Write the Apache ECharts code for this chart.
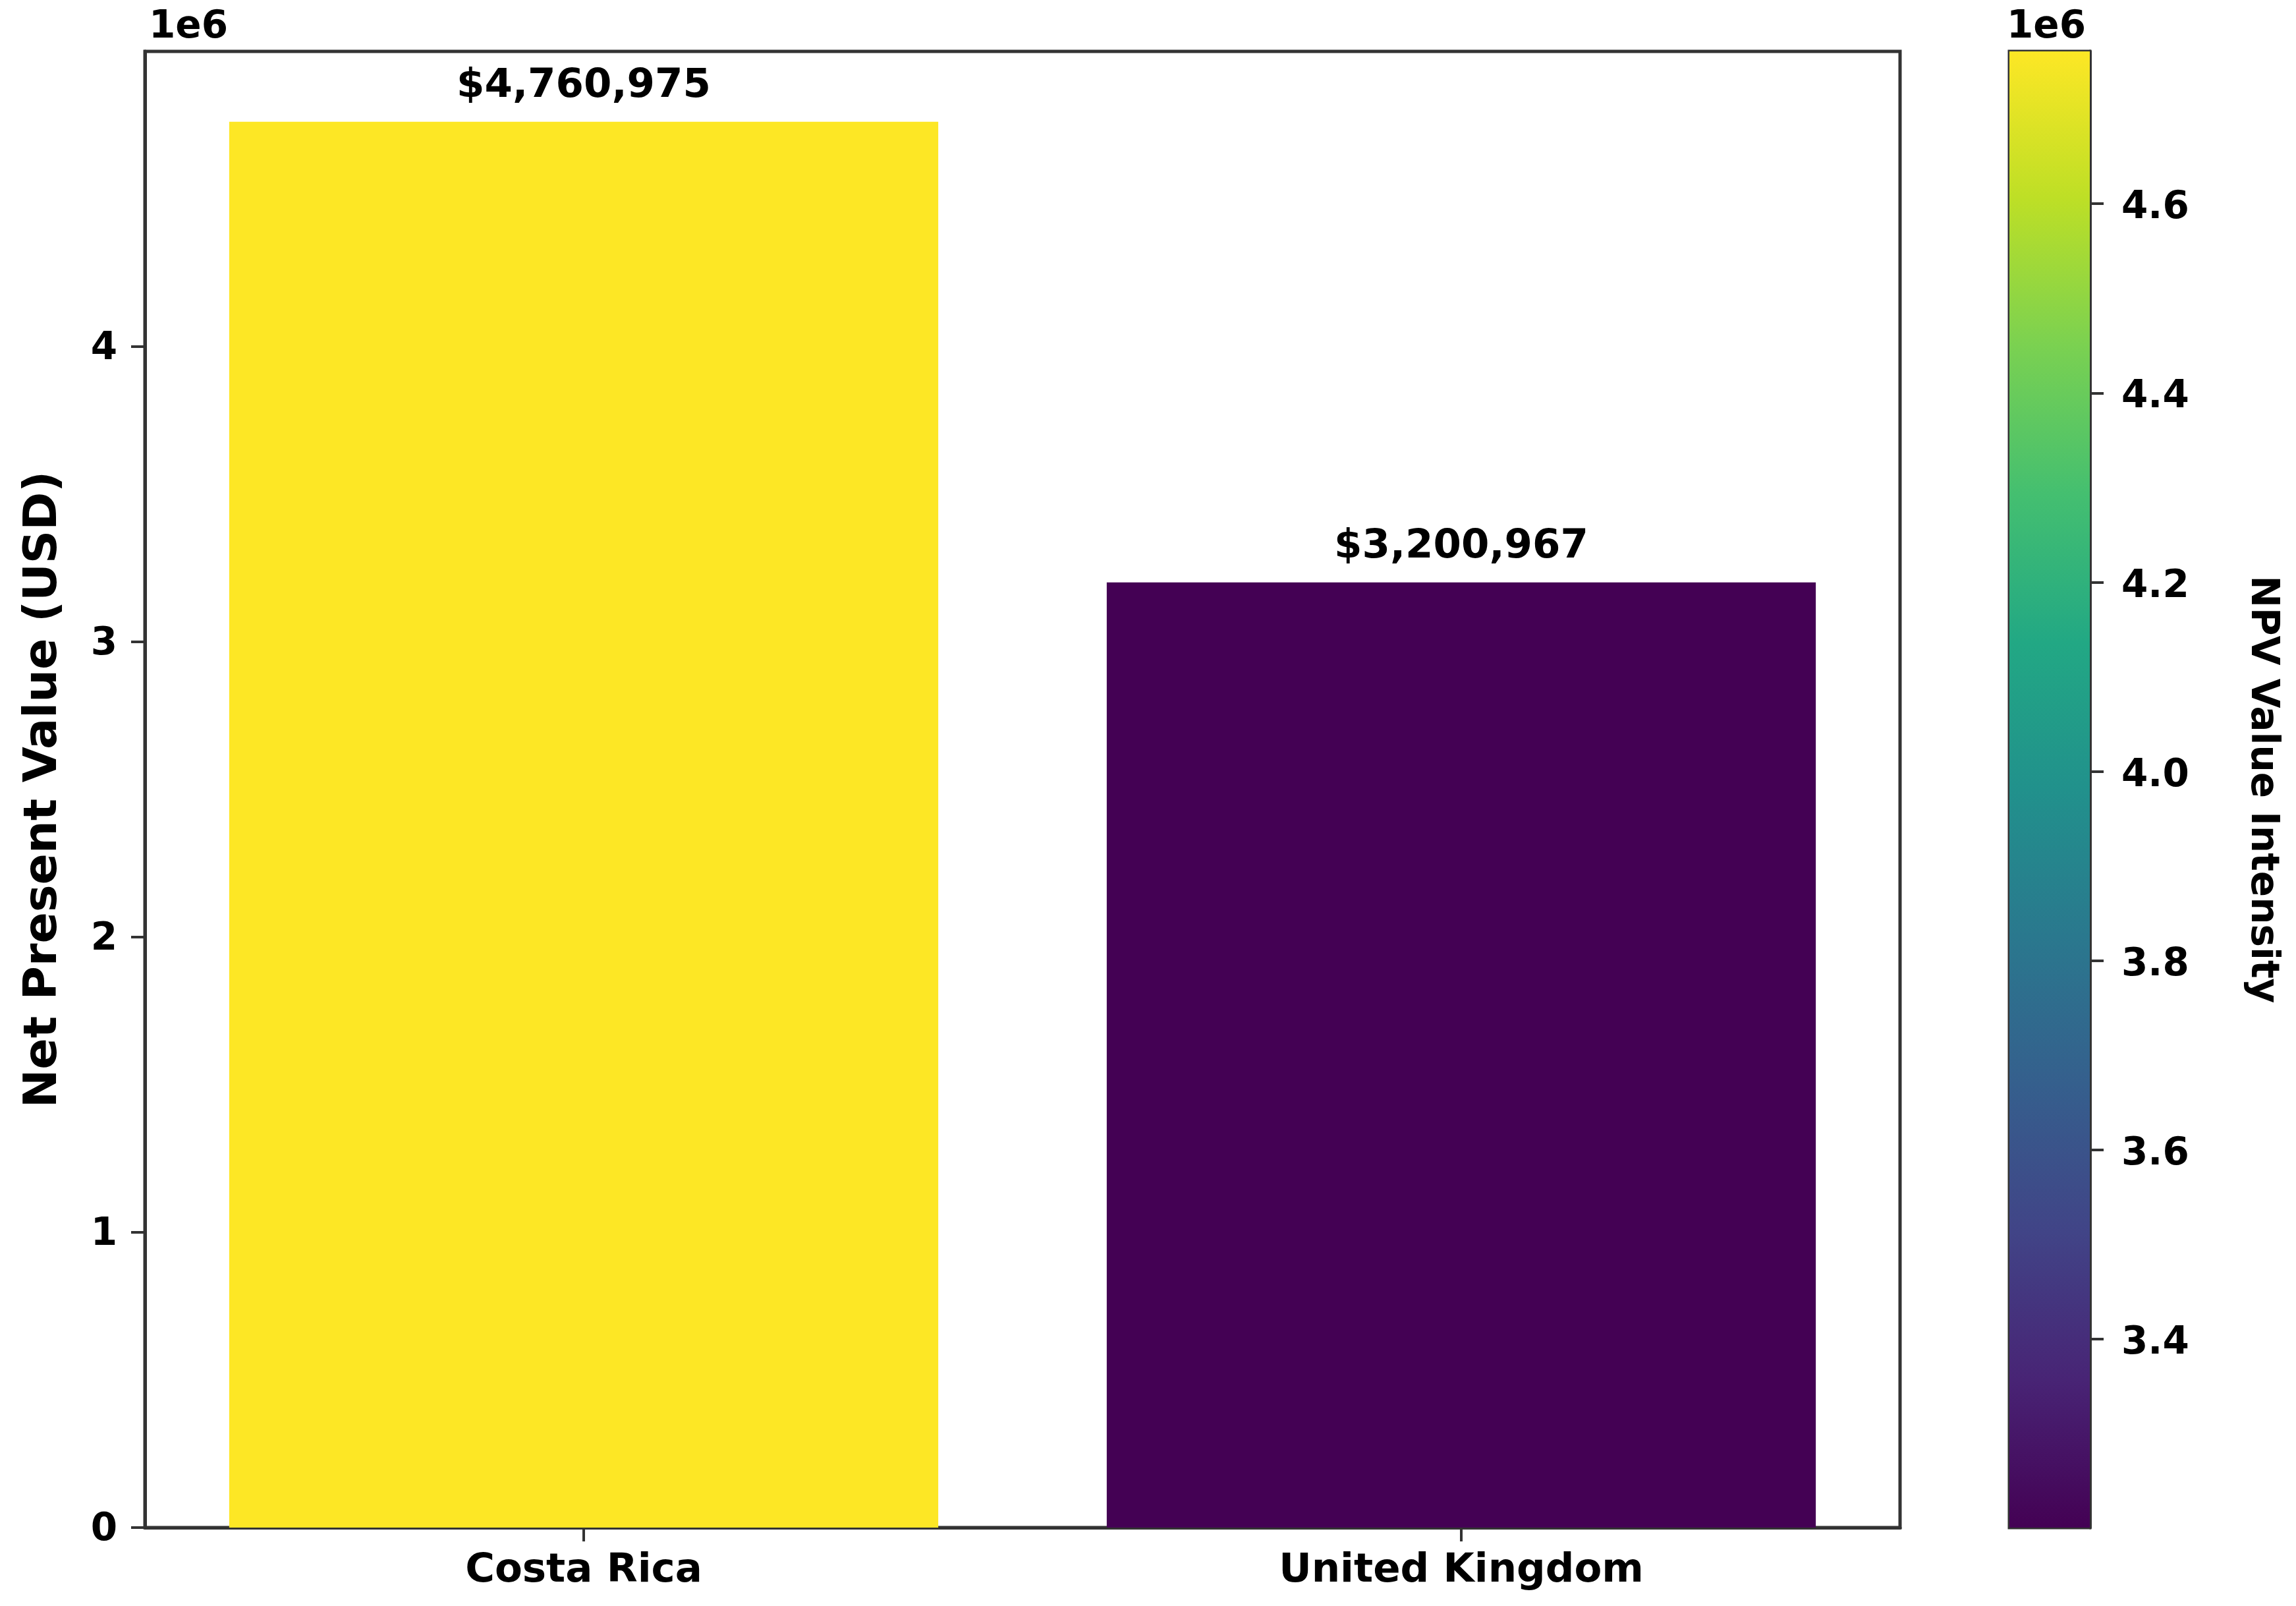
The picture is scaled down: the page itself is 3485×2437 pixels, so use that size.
<!DOCTYPE html>
<html>
<head>
<meta charset="utf-8">
<script src="https://cdn.jsdelivr.net/npm/echarts@6/dist/echarts.min.js"></script>
<style>
html,body{margin:0;padding:0;background:#fff;}
#chart{width:3485px;height:2437px;}
</style>
</head>
<body>
<div id="chart"></div>
<script>
const categories = ['Costa Rica', 'United Kingdom'];
const npvValues = [4760975, 3200967];
const yTickValues = [0, 1, 2, 3, 4];
const colorbarTicks = [3400000, 3600000, 3800000, 4000000, 4200000, 4400000, 4600000];
const viridis = ['#440154', '#482475', '#414487', '#355f8d', '#2a788e', '#21918c', '#22a884', '#44bf70', '#7ad151', '#bddf26', '#fde725'];

const vMin = Math.min(...npvValues);
const vMax = Math.max(...npvValues);
const yMax = vMax * 1.05;

const FONT = 'DejaVu Sans';
const AX = '#333333';

const chart = echarts.init(document.getElementById('chart'), null, {renderer: 'canvas'});

const gradStops = viridis.map((c, i) => ({offset: 1 - i / (viridis.length - 1), color: c}));
const yTicksScaled = yTickValues.map(v => v * 1e6);

const option = {
  backgroundColor: '#ffffff',
  animation: false,
  textStyle: {fontFamily: FONT, fontWeight: 'bold', color: '#000'},
  grid: [
    {left: 220, top: 78, width: 2664, height: 2240, show: true, borderColor: AX, borderWidth: 5, backgroundColor: 'transparent'},
    {left: 3050, top: 78, width: 122, height: 2240, show: true, borderColor: AX, borderWidth: 5, backgroundColor: 'transparent'}
  ],
  visualMap: {
    show: false,
    type: 'continuous',
    seriesIndex: 0,
    min: vMin,
    max: vMax,
    dimension: 1,
    inRange: {color: viridis}
  },
  xAxis: [
    {
      type: 'category', gridIndex: 0, data: categories,
      axisLine: {show: true, lineStyle: {color: AX, width: 5}},
      axisTick: {show: true, alignWithLabel: true, length: 21, lineStyle: {color: AX, width: 4}},
      axisLabel: {fontFamily: FONT, fontWeight: 'bold', fontSize: 61, color: '#000', margin: 36},
      splitLine: {show: false}
    },
    {
      type: 'category', gridIndex: 1, data: [''],
      axisLine: {show: false}, axisTick: {show: false}, axisLabel: {show: false}
    }
  ],
  yAxis: [
    {
      type: 'value', gridIndex: 0, min: 0, max: yMax, interval: 1000000,
      axisLine: {show: true, lineStyle: {color: AX, width: 5}},
      axisTick: {show: true, length: 21, customValues: yTicksScaled, lineStyle: {color: AX, width: 4}},
      axisLabel: {fontFamily: FONT, fontWeight: 'bold', fontSize: 58, color: '#000', margin: 42,
        customValues: yTicksScaled,
        formatter: v => '{a|' + String(Math.round(v / 1e6)) + '}',
        rich: {a: {fontFamily: FONT, fontWeight: 'bold', fontSize: 58, color: '#000', padding: [8, 0, 0, 0]}}},
      splitLine: {show: false},
      name: 'Net Present Value (USD)',
      nameLocation: 'middle',
      nameRotate: 90,
      nameGap: 118,
      nameTextStyle: {fontFamily: FONT, fontWeight: 'bold', fontSize: 70, color: '#000'}
    },
    {
      type: 'value', gridIndex: 1, position: 'right', min: vMin, max: vMax,
      axisLine: {show: true, lineStyle: {color: AX, width: 5}},
      axisTick: {show: true, length: 21, customValues: colorbarTicks, lineStyle: {color: AX, width: 4}},
      axisLabel: {fontFamily: FONT, fontWeight: 'bold', fontSize: 58, color: '#000', margin: 48,
        customValues: colorbarTicks,
        formatter: v => '{a|' + (v / 1e6).toFixed(1) + '}',
        rich: {a: {fontFamily: FONT, fontWeight: 'bold', fontSize: 58, color: '#000', padding: [14, 0, 0, 0]}}},
      splitLine: {show: false},
      name: 'NPV Value Intensity',
      nameLocation: 'middle',
      nameRotate: -90,
      nameGap: 232,
      nameTextStyle: {fontFamily: FONT, fontWeight: 'bold', fontSize: 58, color: '#000'}
    }
  ],
  series: [
    {
      type: 'bar', xAxisIndex: 0, yAxisIndex: 0,
      data: npvValues,
      barWidth: '80.8%',
      z: 1,
      label: {
        show: true, position: 'top', distance: 23,
        fontFamily: FONT, fontWeight: 'bold', fontSize: 61, color: '#000',
        formatter: p => '$' + Number(p.value).toLocaleString('en-US')
      }
    },
    {
      type: 'bar', xAxisIndex: 1, yAxisIndex: 1,
      data: [vMax],
      barWidth: '100%',
      clip: true,
      z: 1,
      itemStyle: {color: new echarts.graphic.LinearGradient(0, 0, 0, 1, gradStops)}
    }
  ],
  graphic: [
    {type: 'text', x: 226, y: 42, style: {text: '1e6', font: 'bold 58px "DejaVu Sans"', fill: '#000', textVerticalAlign: 'middle', verticalAlign: 'middle'}},
    {type: 'text', x: 3046, y: 42, style: {text: '1e6', font: 'bold 58px "DejaVu Sans"', fill: '#000', textVerticalAlign: 'middle', verticalAlign: 'middle'}}
  ]
};
chart.setOption(option);
</script>
</body>
</html>
